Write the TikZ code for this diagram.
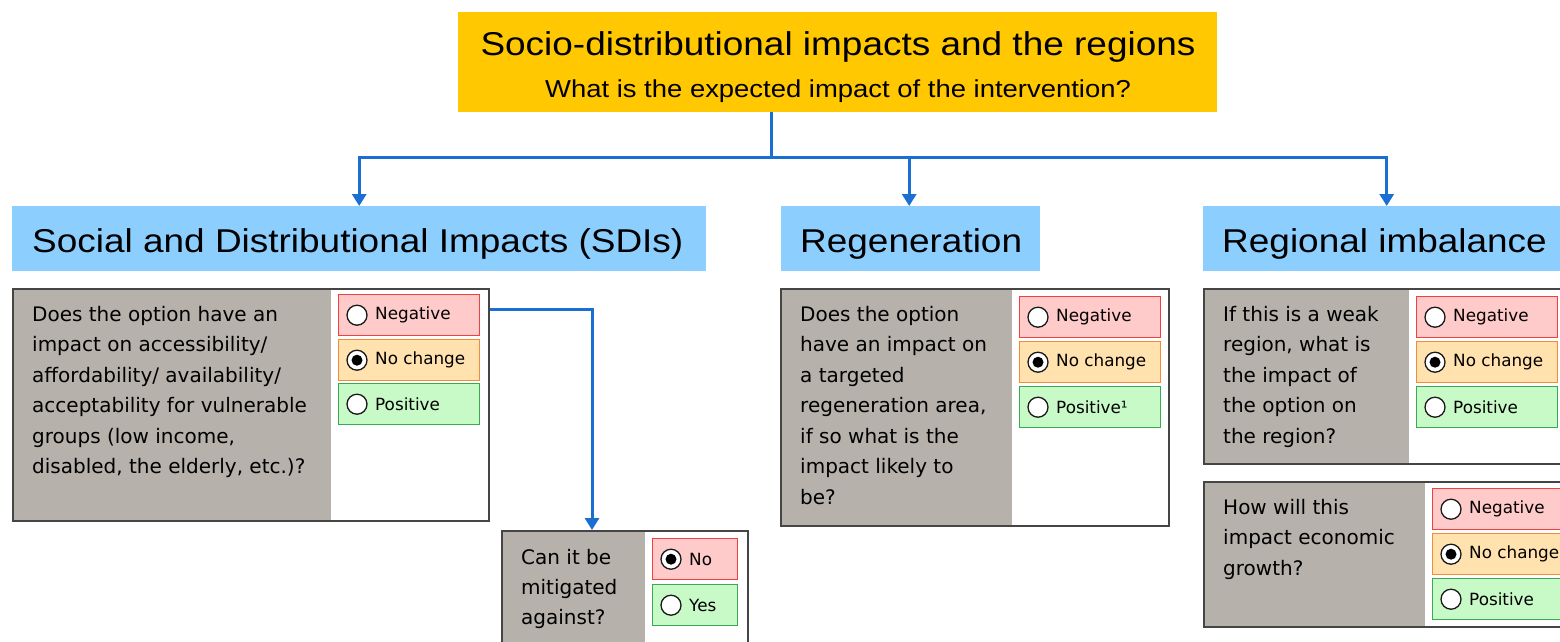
\documentclass[tikz,border=0pt]{standalone}
\usepackage{fontspec}
\setmainfont{Liberation Sans}
\newfontfamily\hfont[FakeStretch=1.12]{Liberation Sans}
\newfontfamily\qfont{DejaVu Sans}
\usetikzlibrary{arrows.meta}
\definecolor{titleyel}{HTML}{FFC800}
\definecolor{hdrblue}{HTML}{8CCFFF}
\definecolor{connblue}{HTML}{1C6FD2}
\definecolor{graypart}{HTML}{B6B2AB}
\definecolor{boxline}{HTML}{454545}
\definecolor{negfill}{HTML}{FFCACA}
\definecolor{negline}{HTML}{F04040}
\definecolor{ncfill}{HTML}{FFE2AE}
\definecolor{ncline}{HTML}{F58A3A}
\definecolor{posfill}{HTML}{C8FAC8}
\definecolor{posline}{HTML}{3AAA50}
\newcommand\qtfont{\qfont\fontsize{20}{30.5}\selectfont}
\newcommand\optfont{\qfont\fontsize{16.8}{18}\selectfont}
\tikzset{
  conn/.style={draw=connblue, line width=3pt},
  arr/.style={conn, -{Triangle[width=14pt,length=12pt]}},
  hdr/.style={fill=hdrblue, anchor=north west, inner sep=0pt},
  hdrtext/.style={anchor=base west, inner sep=0pt, font=\hfont\fontsize{33}{38}\selectfont},
  grayfill/.style={fill=graypart, anchor=north west, inner sep=0pt},
  qbox/.style={draw=boxline, line width=1.6pt, anchor=north west, inner sep=0pt},
  qtext/.style={anchor=north west, inner sep=0pt, align=left, font=\qtfont},
  negbox/.style={fill=negfill, draw=negline, line width=1.4pt},
  ncbox/.style={fill=ncfill, draw=ncline, line width=1.4pt},
  posbox/.style={fill=posfill, draw=posline, line width=1.4pt},
  radio/.style={circle, draw=black!90, line width=1.3pt, fill=white, minimum size=20pt, inner sep=0pt},
  radiodot/.style={circle, fill=black, minimum size=11pt, inner sep=0pt},
  opttext/.style={anchor=west, inner sep=0pt, font=\optfont},
}
% #1 name, #2 x, #3 y, #4 width, #5 style, #6 label, #7 selected (1/0)
\newcommand\optn[7]{%
  \node[#5, anchor=north west, minimum width=#4pt, minimum height=41pt, inner sep=0pt] (#1) at (#2,#3) {};
  \node[radio] (#1r) at ([xshift=19pt]#1.west) {};
  \node[opttext] (#1t) at ([xshift=37pt]#1.west) {#6};
  \ifnum#7=1 \node[radiodot] at (#1r) {};\fi
}
\begin{document}
\begin{tikzpicture}[x=1pt,y=-1pt]
\useasboundingbox (0,0) rectangle (1560,641);
\clip (0,0) rectangle (1560,641);
\fill[white] (0,0) rectangle (1560,641);

% title
\node[fill=titleyel, anchor=north west, minimum width=759pt, minimum height=100pt, inner sep=0pt] (top) at (458,12) {};
\node[anchor=base, inner sep=0pt, font=\hfont\fontsize{33}{38}\selectfont] (ttl) at (838,55) {Socio-distributional impacts and the regions};
\node[anchor=base, inner sep=0pt, font=\hfont\fontsize{24.5}{28}\selectfont] (sub) at (838,97) {What is the expected impact of the intervention?};

% headers
\node[hdr, minimum width=694pt, minimum height=65pt] (hsdi) at (12,206) {};
\node[hdrtext] at (32,252) {Social and Distributional Impacts (SDIs)};
\node[hdr, minimum width=259pt, minimum height=65pt] (hreg) at (781,206) {};
\node[hdrtext] at (800,252) {Regeneration};
\node[hdr, minimum width=362pt, minimum height=65pt] (himb) at (1203,206) {};
\node[hdrtext] at (1222,252) {Regional imbalance};

% connectors from title
\coordinate (hub) at (771,157);
\draw[conn] (top.south -| hub) -- (hub);
\draw[arr] (hub) -| (hsdi.north);
\draw[arr] (hub) -| ([xshift=-1.5pt]hreg.north);
\draw[arr] (hub) -| ([xshift=2.5pt]himb.north);

% SDI question
\node[grayfill, minimum width=319pt, minimum height=232pt] (sdig) at (12,288) {};
\node[qbox, minimum width=476pt, minimum height=232pt] (sdiq) at (12,288) {};
\node[qtext] (sdit) at (32,306) {Does the option have an\\impact on accessibility/\\affordability/ availability/\\acceptability for vulnerable\\groups (low income,\\disabled, the elderly, etc.)?};
\optn{sdin}{338}{294}{141}{negbox}{Negative}{0}
\optn{sdic}{338}{339}{141}{ncbox}{No change}{1}
\optn{sdip}{338}{383}{141}{posbox}{Positive}{0}

% mitigation
\node[grayfill, minimum width=144pt, minimum height=140pt] (mitg) at (501,530) {};
\node[qbox, minimum width=246pt, minimum height=140pt] (mitq) at (501,530) {};
\node[qtext, font=\qfont\fontsize{20}{30}\selectfont] (mitt) at (521,549) {Can it be\\mitigated\\against?};
\optn{mitn}{652}{538}{85}{negbox}{No}{1}
\optn{mity}{652}{584}{85}{posbox}{Yes}{0}

\coordinate (bend) at (592,309);
\draw[arr] (sdiq.east |- bend) -- (bend) -- (bend |- mitq.north);

% regeneration
\node[grayfill, minimum width=232pt, minimum height=237pt] (regg) at (780,288) {};
\node[qbox, minimum width=388pt, minimum height=237pt] (regq) at (780,288) {};
\node[qtext] (regt) at (800,306) {Does the option\\have an impact on\\a targeted\\regeneration area,\\if so what is the\\impact likely to\\be?};
\optn{regn}{1019}{296}{141}{negbox}{Negative}{0}
\optn{regc}{1019}{341}{141}{ncbox}{No change}{1}
\optn{regp}{1019}{386}{141}{posbox}{Positive¹}{0}

% regional imbalance 1
\node[grayfill, minimum width=206pt, minimum height=175pt] (imag) at (1203,288) {};
\node[qbox, minimum width=370pt, minimum height=175pt] (imaq) at (1203,288) {};
\node[qtext] (imat) at (1223,306) {If this is a weak\\region, what is\\the impact of\\the option on\\the region?};
\optn{iman}{1416}{296}{141}{negbox}{Negative}{0}
\optn{imac}{1416}{341}{141}{ncbox}{No change}{1}
\optn{imap}{1416}{386}{141}{posbox}{Positive}{0}

% regional imbalance 2
\node[grayfill, minimum width=222pt, minimum height=145pt] (imbg) at (1203,481) {};
\node[qbox, minimum width=370pt, minimum height=145pt] (imbq) at (1203,481) {};
\node[qtext] (imbt) at (1223,499) {How will this\\impact economic\\growth?};
\optn{imbn}{1432}{488}{141}{negbox}{Negative}{0}
\optn{imbc}{1432}{533}{141}{ncbox}{No change}{1}
\optn{imbp}{1432}{578}{141}{posbox}{Positive}{0}
\end{tikzpicture}
\end{document}
